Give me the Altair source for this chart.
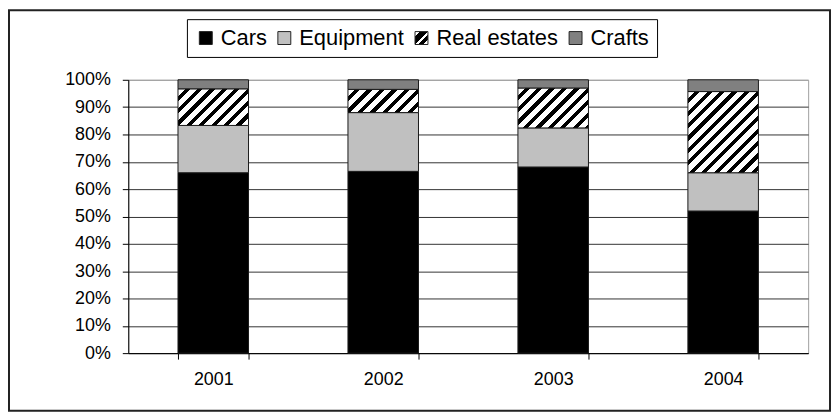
import json
import math
import altair as alt
import pandas as pd

# ---- data ----
years = ["2001", "2002", "2003", "2004"]
categories = ["Cars", "Equipment", "Real estates", "Crafts"]
cars = [66.0, 66.5, 68.1, 52.0]
equipment = [17.3, 21.5, 14.3, 14.0]
real_estates = [13.4, 8.5, 14.6, 29.7]
crafts = [3.3, 3.5, 3.0, 4.3]
y_tick_values = [0.0, 0.1, 0.2, 0.3, 0.4, 0.5, 0.6, 0.7, 0.8, 0.9, 1.0]

W, H = 684, 275
FONT = "Liberation Sans"
PAD_INNER = 0.585
PAD_OUTER = PAD_INNER / 2

series = [cars, equipment, real_estates, crafts]
rows = []
for i, yr in enumerate(years):
    for k, (cat, vals) in enumerate(zip(categories, series)):
        rows.append({"year": yr, "cat": cat, "order": k, "value": vals[i]})
df = pd.DataFrame(rows)

# hatch fill (45 degree stripes) built as a linear gradient for each bar's aspect
step = W / len(years)
bar_w = step * (1 - PAD_INNER)


def hatch(w, h, period=12.5, dark=0.42):
    s = (1 / h + 1 / w) / (1 / h ** 2 + 1 / w ** 2)
    x2, y2 = s / h, s / w
    n = (w + h) / period
    stops = [{"offset": 0, "color": "#ffffff"}]
    for k in range(int(math.ceil(n))):
        o1 = round(min(1.0, (k + 1 - dark) / n), 4)
        o2 = round(min(1.0, (k + 1) / n), 4)
        stops += [
            {"offset": o1, "color": "#ffffff"},
            {"offset": o1, "color": "#000000"},
            {"offset": o2, "color": "#000000"},
            {"offset": o2, "color": "#ffffff"},
        ]
    return {"gradient": "linear", "x1": 0, "y1": 0,
            "x2": round(x2, 4), "y2": round(y2, 4), "stops": stops}


conditions = [
    {"test": f"datum.cat === 'Real estates' && datum.year === '{yr}'",
     "value": hatch(bar_w, r / 100.0 * H)}
    for yr, r in zip(years, real_estates)
]

legend_hatch = {"gradient": "linear", "x1": 0, "y1": 0, "x2": 1, "y2": 1,
                "stops": [{"offset": 0, "color": "#ffffff"},
                          {"offset": 0.2, "color": "#ffffff"},
                          {"offset": 0.2, "color": "#000000"},
                          {"offset": 0.5, "color": "#000000"},
                          {"offset": 0.5, "color": "#ffffff"},
                          {"offset": 0.62, "color": "#ffffff"},
                          {"offset": 0.62, "color": "#000000"},
                          {"offset": 0.8, "color": "#000000"},
                          {"offset": 0.8, "color": "#ffffff"},
                          {"offset": 1, "color": "#ffffff"}]}

fill_range = ["#000000", "#c0c0c0", {"expr": json.dumps(legend_hatch)}, "#808080"]

bars = alt.Chart(df).mark_bar(stroke="#1a1a1a", strokeWidth=1).encode(
    x=alt.X("year:N",
            scale=alt.Scale(paddingInner=PAD_INNER, paddingOuter=PAD_OUTER),
            axis=alt.Axis(title=None, labelAngle=0, tickBand="extent", tickSize=6,
                          tickColor="#000000", domainColor="#000000",
                          labelFont=FONT, labelFontSize=18, labelPadding=12,
                          labelColor="#000000", grid=False)),
    y=alt.Y("value:Q", stack="normalize",
            scale=alt.Scale(domain=[0, 1], nice=False),
            axis=alt.Axis(title=None, values=y_tick_values, format=".0%",
                          tickSize=6, tickColor="#000000", domainColor="#000000",
                          labelFont=FONT, labelFontSize=18, labelPadding=12,
                          labelColor="#000000", grid=True,
                          gridColor={"condition": {"test": "datum.value >= 0.999",
                                                   "value": "#a0a0a0"},
                                     "value": "#333333"})),
    fill=alt.Fill("cat:N",
                  scale=alt.Scale(domain=categories, range=fill_range),
                  condition=conditions,
                  legend=alt.Legend(orient="none", legendX=59, legendY=-61,
                                    direction="horizontal", title=None,
                                    labelFont=FONT, labelFontSize=22,
                                    labelColor="#000000",
                                    symbolType="square", symbolSize=169,
                                    symbolStrokeColor="#222222",
                                    symbolStrokeWidth=1, symbolOpacity=1,
                                    padding=8, strokeColor="#000000",
                                    fillColor="#ffffff", labelOffset=4,
                                    columnPadding=6)),
    order=alt.Order("order:Q"),
)

frame = alt.Chart(alt.Data(values=[{}])).mark_rect(
    fillOpacity=0, stroke="#222222", strokeWidth=2
).encode(
    x=alt.value(-120), x2=alt.value(W + 22),
    y=alt.value(-70), y2=alt.value(H + 58),
)

chart = alt.layer(bars, frame).properties(
    width=W, height=H,
    padding={"left": 121, "top": 71, "right": 24, "bottom": 60},
    autosize=alt.AutoSizeParams(type="none"),
    background="#ffffff",
).configure_view(stroke="#a0a0a0", strokeWidth=1)

chart.save("out.html", embed_options={"renderer": "svg", "actions": False})
